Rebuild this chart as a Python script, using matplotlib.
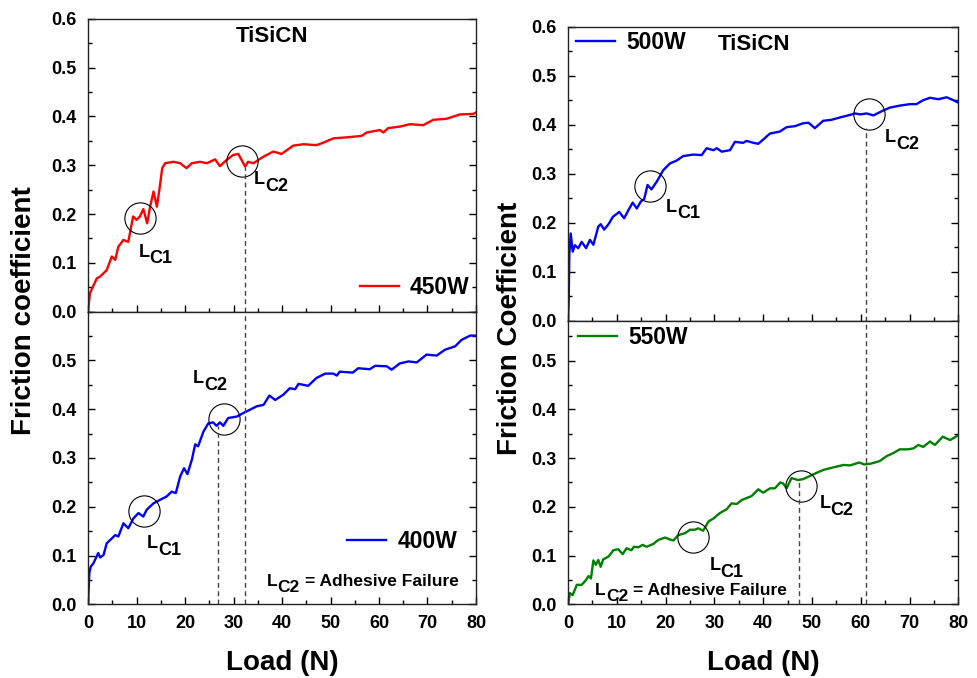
import matplotlib
matplotlib.use("Agg")
import matplotlib.pyplot as plt
from matplotlib.ticker import MultipleLocator, FixedLocator

plt.rcParams['font.family'] = ['Liberation Sans', 'DejaVu Sans']
plt.rcParams['font.weight'] = 'bold'

# ---------------- data ----------------
x_450 = [0, 0.4, 1.8, 2.5, 3.85, 4.9, 5.6, 6.25, 7.3, 8.3, 9.3, 10.0, 10.7, 11.4, 12.2, 12.8,
         13.5, 14.2, 14.8, 15.3, 15.9, 17.6, 19.0, 20.3, 21.4, 23.1, 24.5, 26.2, 27.2, 28.6,
         29.95, 31.0, 32.4, 33.0, 34.1, 36.1, 38.2, 39.9, 42.3, 44.4, 47.1, 48.5, 50.6, 53.3,
         56.4, 57.5, 60.2, 60.9, 61.9, 64.3, 66.4, 69.1, 71.2, 73.9, 76.7, 79.4, 80]
y_450 = [0, 0.038, 0.068, 0.072, 0.085, 0.113, 0.106, 0.133, 0.147, 0.143, 0.195, 0.188, 0.195,
         0.21, 0.181, 0.215, 0.246, 0.215, 0.256, 0.294, 0.304, 0.307, 0.304, 0.294, 0.304,
         0.307, 0.304, 0.312, 0.298, 0.311, 0.321, 0.323, 0.297, 0.307, 0.304, 0.317, 0.328,
         0.323, 0.340, 0.343, 0.341, 0.346, 0.355, 0.357, 0.360, 0.367, 0.372, 0.367, 0.376,
         0.379, 0.384, 0.382, 0.393, 0.395, 0.404, 0.405, 0.408]

x_400 = [0, 0.27, 0.55, 1.1, 2.1, 2.5, 3.2, 3.85, 4.9, 5.6, 6.25, 7.3, 8.3, 9.35, 10.4, 11.4,
         12.1, 13.5, 14.8, 16.2, 17.25, 18.1, 19.0, 19.8, 20.5, 21.4, 22.1, 22.7, 23.8, 24.8,
         25.8, 26.5, 27.2, 27.9, 28.9, 30.7, 32.0, 33.4, 34.8, 36.2, 37.4, 38.6, 40.3, 41.6,
         42.7, 43.4, 45.4, 47.1, 48.9, 50.6, 51.3, 51.9, 54.6, 55.7, 58.1, 59.2, 61.6, 62.6,
         64.3, 66.1, 67.8, 69.8, 71.9, 73.6, 75.7, 77.0, 78.8, 80]
y_400 = [0, 0.064, 0.077, 0.084, 0.105, 0.096, 0.101, 0.125, 0.135, 0.142, 0.139, 0.166, 0.156,
         0.176, 0.187, 0.180, 0.194, 0.207, 0.214, 0.221, 0.231, 0.228, 0.262, 0.279, 0.267,
         0.296, 0.328, 0.324, 0.354, 0.371, 0.373, 0.366, 0.373, 0.366, 0.382, 0.385, 0.392,
         0.399, 0.406, 0.409, 0.428, 0.419, 0.430, 0.443, 0.441, 0.452, 0.448, 0.464, 0.473,
         0.473, 0.469, 0.477, 0.475, 0.484, 0.482, 0.489, 0.488, 0.481, 0.494, 0.498, 0.496,
         0.512, 0.510, 0.522, 0.529, 0.542, 0.551, 0.551]

x_500 = [0, 0.14, 0.27, 0.55, 0.96, 1.4, 2.1, 2.8, 3.7, 4.5, 5.2, 6.2, 6.7, 7.4, 8.3, 9.2, 10.5,
         11.5, 12.4, 13.25, 14.1, 14.9, 15.6, 16.3, 17.1, 18.2, 19.5, 20.9, 22.3, 23.6, 25.7,
         27.4, 28.4, 29.8, 30.5, 31.5, 33.2, 34.2, 35.9, 36.6, 38.0, 39.0, 41.4, 43.4, 44.8,
         46.5, 48.2, 49.3, 50.6, 52.3, 54.0, 55.8, 57.8, 58.8, 59.9, 61.2, 62.6, 64.6, 66.0,
         68.0, 70.1, 71.4, 72.8, 74.2, 75.9, 77.6, 79.0, 80]
y_500 = [0, 0.042, 0.137, 0.178, 0.141, 0.154, 0.148, 0.161, 0.148, 0.165, 0.155, 0.192, 0.197,
         0.186, 0.197, 0.212, 0.222, 0.209, 0.226, 0.241, 0.229, 0.243, 0.248, 0.277, 0.268,
         0.284, 0.307, 0.321, 0.327, 0.336, 0.339, 0.338, 0.352, 0.348, 0.352, 0.345, 0.348,
         0.365, 0.363, 0.367, 0.363, 0.361, 0.382, 0.386, 0.395, 0.397, 0.403, 0.404, 0.393,
         0.408, 0.410, 0.415, 0.420, 0.423, 0.421, 0.423, 0.419, 0.429, 0.435, 0.439, 0.442,
         0.442, 0.450, 0.455, 0.452, 0.456, 0.450, 0.445]

x_550 = [0, 0.4, 0.96, 1.8, 2.8, 3.7, 4.2, 4.7, 5.2, 5.7, 6.2, 6.7, 7.2, 8.3, 9.3, 10.3, 11.2,
         12.0, 13.0, 13.5, 14.4, 15.3, 16.1, 17.5, 18.5, 19.9, 20.9, 21.6, 22.6, 24.0, 25.0,
         26.0, 26.7, 27.7, 28.8, 29.8, 31.1, 32.5, 33.5, 34.6, 35.6, 36.6, 37.6, 39.0, 40.0,
         41.4, 42.4, 43.5, 44.1, 44.8, 45.8, 47.2, 48.2, 49.3, 51.0, 52.4, 54.4, 56.5, 57.8,
         59.7, 60.7, 62.2, 63.9, 65.3, 66.6, 68.0, 69.7, 70.8, 71.8, 72.8, 74.2, 75.2, 76.8,
         78.3, 80]
y_550 = [0, 0.023, 0.019, 0.040, 0.040, 0.050, 0.058, 0.053, 0.090, 0.081, 0.091, 0.077, 0.092,
         0.098, 0.111, 0.113, 0.103, 0.115, 0.111, 0.118, 0.117, 0.122, 0.118, 0.124, 0.132,
         0.137, 0.133, 0.131, 0.142, 0.146, 0.153, 0.153, 0.156, 0.151, 0.170, 0.176, 0.187,
         0.195, 0.207, 0.206, 0.214, 0.218, 0.222, 0.236, 0.229, 0.238, 0.238, 0.250, 0.248,
         0.238, 0.259, 0.255, 0.257, 0.262, 0.270, 0.276, 0.281, 0.286, 0.285, 0.291, 0.287,
         0.289, 0.294, 0.304, 0.310, 0.318, 0.318, 0.320, 0.327, 0.323, 0.334, 0.327, 0.344,
         0.337, 0.347]

# critical loads (N) and friction at circles
lc_450 = [10.7, 31.7]
lc_450_mu = [0.191, 0.309]
lc_400 = [11.6, 28.0]
lc_400_mu = [0.191, 0.380]
lc_500 = [16.9, 61.7]
lc_500_mu = [0.2755, 0.4224]
lc_550 = [25.7, 47.75]
lc_550_mu = [0.139, 0.243]
adhesive_left = [26.9, 32.4]
adhesive_right = [47.3, 61.1]

# ---------------- figure ----------------
fig = plt.figure(figsize=(9.78, 6.78), dpi=100)
axLT = fig.add_axes([0.0900, 0.5403, 0.3967, 0.4321])
axLB = fig.add_axes([0.0900, 0.1087, 0.3967, 0.4316])
axRT = fig.add_axes([0.5808, 0.5270, 0.3991, 0.4336])
axRB = fig.add_axes([0.5808, 0.1087, 0.3991, 0.4183])

TICK = 13
LEG = 16.5
LBL = 13
DASH = dict(color='#444444', lw=1.0, ls=(0, (3.5, 2.5)))


def style(ax, top_ymax, show_x, yticks):
    ax.set_xlim(0, 80)
    ax.set_ylim(0, top_ymax)
    ax.xaxis.set_major_locator(MultipleLocator(10))
    ax.xaxis.set_minor_locator(MultipleLocator(5))
    ax.yaxis.set_major_locator(FixedLocator(yticks))
    ax.yaxis.set_minor_locator(MultipleLocator(0.05))
    ax.tick_params(which='both', direction='in', top=False, right=True, width=1.0)
    ax.tick_params(which='major', length=5)
    ax.tick_params(which='minor', length=3)
    ax.tick_params(axis='y', pad=8)
    ax.tick_params(axis='x', pad=8)
    ax.set_yticks(yticks)
    ax.set_yticklabels(['%.1f' % v for v in yticks], fontweight='bold', fontsize=TICK)
    ax.set_xticks(list(range(0, 81, 10)))
    if not show_x:
        ax.tick_params(labelbottom=False)
    else:
        ax.set_xticklabels([str(v) for v in range(0, 81, 10)], fontweight='bold',
                           fontsize=TICK)
    for s in ax.spines.values():
        s.set_linewidth(1.0)
        s.set_color('#222222')


def lc_label(ax, x, y, sub, size=LBL, extra=None):
    ax.text(x, y, 'L', fontsize=size, fontweight='bold', ha='left', va='baseline')
    ax.annotate(sub, xy=(x, y), xycoords='data', xytext=(size * 0.62, -size * 0.37),
                textcoords='offset points', fontsize=size, fontweight='bold',
                ha='left', va='baseline')
    if extra:
        ax.annotate(extra, xy=(x, y), xycoords='data', xytext=(size * 2.2, 0),
                    textcoords='offset points', fontsize=size, fontweight='bold',
                    ha='left', va='baseline')


def circles(ax, xs, ys):
    ax.plot(xs, ys, ls='none', marker='o', ms=22.5, mfc='none', mec='black', mew=0.8)


def legend(ax, anchor):
    lg = ax.legend(loc='center left', bbox_to_anchor=anchor, frameon=False,
                   prop={'size': LEG, 'weight': 'bold'}, handlelength=1.7,
                   handletextpad=0.5, borderpad=0, borderaxespad=0)
    return lg


# Left top: 450W
style(axLT, 0.6, False, [0, 0.1, 0.2, 0.3, 0.4, 0.5, 0.6])
axLT.plot(x_450, y_450, color='#ff0000', lw=1.7, label='450W')
circles(axLT, lc_450, lc_450_mu)
axLT.plot([adhesive_left[1]] * 2, [0, 0.297], **DASH)
lc_label(axLT, 10.4, 0.113, 'C1')
lc_label(axLT, 34.2, 0.261, 'C2')
axLT.text(38, 0.563, 'TiSiCN', fontsize=16, fontweight='bold', ha='center', va='center')
legend(axLT, (0.70, 0.082))

# Left bottom: 400W
style(axLB, 0.6, True, [0, 0.1, 0.2, 0.3, 0.4, 0.5])
axLB.plot(x_400, y_400, color='#0000ff', lw=1.7, label='400W')
circles(axLB, lc_400, lc_400_mu)
axLB.plot([adhesive_left[0]] * 2, [0, 0.365], **DASH)
axLB.plot([adhesive_left[1]] * 2, [0, 0.6], **DASH)
lc_label(axLB, 12.2, 0.115, 'C1')
lc_label(axLB, 21.6, 0.4535, 'C2')
lc_label(axLB, 36.8, 0.0376, 'C2', size=12.5, extra='= Adhesive Failure')
legend(axLB, (0.668, 0.216))

# Right top: 500W
style(axRT, 0.6, False, [0, 0.1, 0.2, 0.3, 0.4, 0.5, 0.6])
axRT.plot(x_500, y_500, color='#0000ff', lw=1.7, label='500W')
circles(axRT, lc_500, lc_500_mu)
axRT.plot([adhesive_right[1]] * 2, [0, 0.393], **DASH)
lc_label(axRT, 20.1, 0.2224, 'C1')
lc_label(axRT, 65.0, 0.365, 'C2')
axRT.text(38.2, 0.563, 'TiSiCN', fontsize=16, fontweight='bold', ha='center', va='center')
legend(axRT, (0.0205, 0.947))

# Right bottom: 550W
style(axRB, 0.582, True, [0, 0.1, 0.2, 0.3, 0.4, 0.5])
axRB.plot(x_550, y_550, color='#008000', lw=1.7, label='550W')
circles(axRB, lc_550, lc_550_mu)
axRB.plot([adhesive_right[0]] * 2, [0, 0.252], **DASH)
axRB.plot([adhesive_right[1]] * 2, [0, 0.582], **DASH)
lc_label(axRB, 28.96, 0.0704, 'C1')
lc_label(axRB, 51.5, 0.197, 'C2')
lc_label(axRB, 5.53, 0.019, 'C2', size=12.5, extra='= Adhesive Failure')
legend(axRB, (0.025, 0.941))

# axis titles
fig.text(282 / 978, 1 - 663 / 678, 'Load (N)', fontsize=20, fontweight='bold',
         ha='center', va='center')
fig.text(763 / 978, 1 - 663 / 678, 'Load (N)', fontsize=20, fontweight='bold',
         ha='center', va='center')
fig.text(24 / 978, 1 - 311 / 678, 'Friction coefficient', fontsize=20, fontweight='bold',
         rotation=90, ha='center', va='center')
fig.text(510 / 978, 1 - 328 / 678, 'Friction Coefficient', fontsize=20, fontweight='bold',
         rotation=90, ha='center', va='center')

fig.savefig('out.png', dpi=100)
